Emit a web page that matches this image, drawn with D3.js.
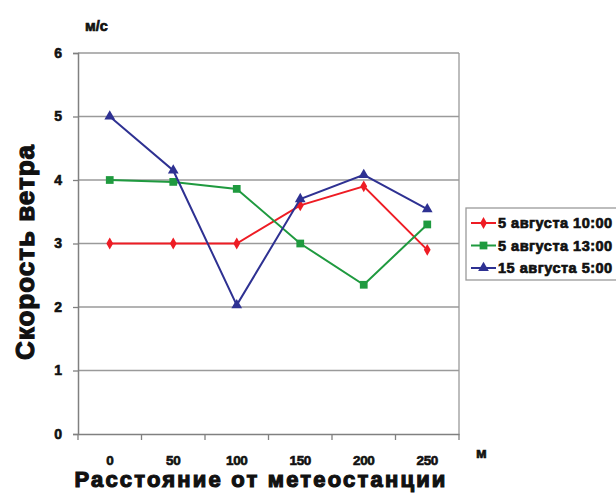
<!DOCTYPE html>
<html><head><meta charset="utf-8">
<script src="https://cdn.jsdelivr.net/npm/d3@7"></script>
<style>body{margin:0;background:#fff}svg text{font-family:"Liberation Sans",Arial,sans-serif;font-weight:bold;fill:#111;stroke:#111;paint-order:stroke}</style>
</head><body><svg id="c" width="616" height="493"></svg>
<script>
const categories = ["0","50","100","150","200","250"];
const seriesNames = ["5 августа 10:00","5 августа 13:00","15 августа 5:00"];
const red = [3, 3, 3, 3.6, 3.9, 2.9];
const green = [4, 3.97, 3.86, 3.0, 2.35, 3.3];
const blue = [5, 4.15, 2.03, 3.7, 4.08, 3.54];
const yTicks = [0,1,2,3,4,5,6];

const series = [
  {name: seriesNames[0], values: red, color: "#ee1c24", shape: d3.symbolDiamond, size: 40},
  {name: seriesNames[1], values: green, color: "#1f9a3f", shape: d3.symbolSquare, size: 60},
  {name: seriesNames[2], values: blue, color: "#2e3192", shape: d3.symbolTriangle, size: 50}
];

const svg = d3.select("#c");
const L = 78, R = 459, T = 53, B = 434;
const x = d3.scaleBand().domain(categories).range([L, R]);
const y = d3.scaleLinear().domain([0, 6]).range([B, T]);

// gridlines
svg.append("g").selectAll("line").data(yTicks.filter(d => d > 0)).join("line")
  .attr("x1", L).attr("x2", R).attr("y1", d => y(d)).attr("y2", d => y(d))
  .attr("stroke", "#9a9a9a").attr("stroke-width", 1.3);
// right border
svg.append("line").attr("x1", R).attr("x2", R).attr("y1", T).attr("y2", B)
  .attr("stroke", "#9a9a9a").attr("stroke-width", 1.3);

// y axis
const ya = svg.append("g").attr("transform", `translate(${L},0)`)
  .call(d3.axisLeft(y).tickValues(yTicks).tickSize(5).tickPadding(11).tickFormat(d3.format("d")));
ya.select(".domain").attr("stroke", "#808080").attr("stroke-width", 1.5);
ya.selectAll(".tick line").attr("stroke", "#808080").attr("stroke-width", 1.3);
ya.selectAll(".tick text").attr("font-size", 14).style("stroke-width", 0.6);

// x axis
const xa = svg.append("g").attr("transform", `translate(0,${B})`)
  .call(d3.axisBottom(x).tickSize(0).tickPadding(21));
xa.select(".domain").attr("stroke", "#808080").attr("stroke-width", 1.5);
xa.selectAll(".tick text").attr("font-size", 13.5).style("stroke-width", 0.6).style("letter-spacing", "-0.3px");
// tick marks at category boundaries
svg.append("g").selectAll("line").data(categories).join("line")
  .attr("x1", d => x(d)).attr("x2", d => x(d)).attr("y1", B).attr("y2", B + 6)
  .attr("stroke", "#808080").attr("stroke-width", 1.3);
svg.append("line").attr("x1", R).attr("x2", R).attr("y1", B).attr("y2", B + 6)
  .attr("stroke", "#808080").attr("stroke-width", 1.3);

const cx = d => x(d) + x.bandwidth() / 2;
const line = d3.line().x((d, i) => cx(categories[i])).y(d => y(d));

series.forEach(s => {
  svg.append("path").datum(s.values).attr("d", line)
    .attr("fill", "none").attr("stroke", s.color).attr("stroke-width", 2);
  svg.append("g").selectAll("path").data(s.values).join("path")
    .attr("d", d3.symbol().type(s.shape).size(s.size))
    .attr("transform", (d, i) => `translate(${cx(categories[i])},${y(d)})`)
    .attr("fill", s.color);
});

// axis titles
svg.append("text").attr("x", 85).attr("y", 31).attr("font-size", 14.5).style("stroke-width", 0.7).text("м/с");
svg.append("text").attr("x", 476).attr("y", 458).attr("font-size", 14.5).style("stroke-width", 0.7).text("м");
svg.append("text").attr("transform", "translate(34,252) rotate(-90)").attr("text-anchor", "middle")
  .attr("font-size", 26).style("stroke-width", 1.2).style("letter-spacing", "1px").text("Скорость ветра");
svg.append("text").attr("x", 261).attr("y", 487).attr("text-anchor", "middle")
  .attr("font-size", 22).style("stroke-width", 1.2).style("letter-spacing", "2.2px").text("Расстояние от метеостанции");

// legend
const lg = svg.append("g");
lg.append("rect").attr("x", 466).attr("y", 208).attr("width", 160).attr("height", 72)
  .attr("fill", "#fff").attr("stroke", "#9a9a9a").attr("stroke-width", 1.3);
series.forEach((s, i) => {
  const yy = 223 + i * 22.5;
  lg.append("line").attr("x1", 471).attr("x2", 496).attr("y1", yy).attr("y2", yy)
    .attr("stroke", s.color).attr("stroke-width", 2);
  lg.append("path").attr("d", d3.symbol().type(s.shape).size(s.size))
    .attr("transform", `translate(483.5,${yy})`).attr("fill", s.color);
  lg.append("text").attr("x", 498).attr("y", yy + 5).attr("font-size", 14.5)
    .style("stroke-width", 0.7).style("letter-spacing", "0.5px").text(s.name);
});
</script></body></html>
